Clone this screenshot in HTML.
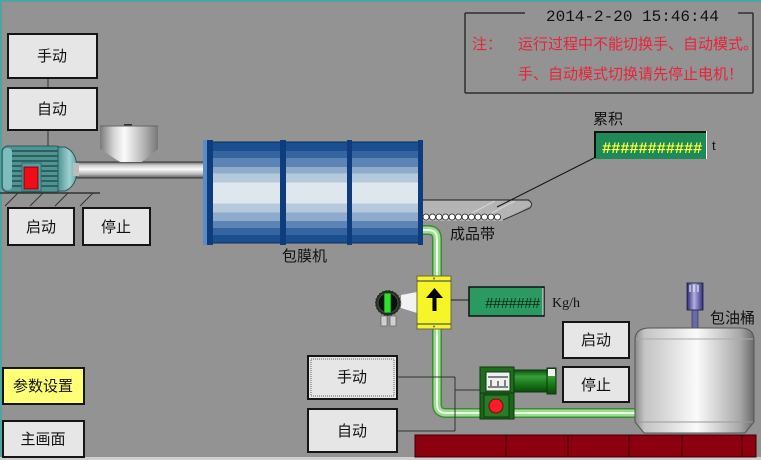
<!DOCTYPE html>
<html><head><meta charset="utf-8"><style>
html,body{margin:0;padding:0;background:#939393;}
svg{display:block;}
text{font-family:"Liberation Sans","Noto Sans CJK SC",sans-serif;}
.cn{font-size:15px;fill:#111;}
.btn{fill:#e6e6e6;stroke:#151515;stroke-width:2;}
</style></head><body>
<svg width="761" height="460" viewBox="0 0 761 460" xmlns="http://www.w3.org/2000/svg">
<defs>
<linearGradient id="drum" x1="0" y1="0" x2="0" y2="1">
<stop offset="0" stop-color="#1c4f8f"/><stop offset="0.09" stop-color="#1c4f8f"/>
<stop offset="0.09" stop-color="#3565a0"/><stop offset="0.16" stop-color="#3565a0"/>
<stop offset="0.16" stop-color="#5c84b5"/><stop offset="0.25" stop-color="#5c84b5"/>
<stop offset="0.25" stop-color="#8fabcb"/><stop offset="0.31" stop-color="#8fabcb"/>
<stop offset="0.31" stop-color="#b5c8dc"/><stop offset="0.40" stop-color="#b5c8dc"/>
<stop offset="0.40" stop-color="#dfe7ee"/><stop offset="0.61" stop-color="#dfe7ee"/>
<stop offset="0.61" stop-color="#b5c8dc"/><stop offset="0.70" stop-color="#b5c8dc"/>
<stop offset="0.70" stop-color="#8fabcb"/><stop offset="0.78" stop-color="#8fabcb"/>
<stop offset="0.78" stop-color="#5c84b5"/><stop offset="0.85" stop-color="#5c84b5"/>
<stop offset="0.85" stop-color="#3565a0"/><stop offset="0.92" stop-color="#3565a0"/>
<stop offset="0.92" stop-color="#1c4f8f"/><stop offset="1" stop-color="#1c4f8f"/>
</linearGradient>
<linearGradient id="shaft" x1="0" y1="0" x2="0" y2="1">
<stop offset="0" stop-color="#666"/><stop offset="0.2" stop-color="#ccc"/>
<stop offset="0.45" stop-color="#fafafa"/><stop offset="0.75" stop-color="#bbb"/><stop offset="1" stop-color="#555"/>
</linearGradient>
<linearGradient id="hop" x1="0" y1="0" x2="1" y2="0">
<stop offset="0" stop-color="#7a7a7a"/><stop offset="0.25" stop-color="#d8d8d8"/>
<stop offset="0.42" stop-color="#fbfbfb"/><stop offset="0.7" stop-color="#c0c0c0"/><stop offset="1" stop-color="#777"/>
</linearGradient>
<linearGradient id="tank" x1="0" y1="0" x2="1" y2="0">
<stop offset="0" stop-color="#8a8a8a"/><stop offset="0.08" stop-color="#c4c4c4"/>
<stop offset="0.25" stop-color="#d8d8d8"/><stop offset="0.45" stop-color="#f2f2f2"/>
<stop offset="0.52" stop-color="#fafafa"/><stop offset="0.7" stop-color="#d2d2d2"/>
<stop offset="0.88" stop-color="#a8a8a8"/><stop offset="1" stop-color="#6a6a6a"/>
</linearGradient>
<linearGradient id="gm" x1="0" y1="0" x2="0" y2="1">
<stop offset="0" stop-color="#0c4c0c"/><stop offset="0.3" stop-color="#3aa03a"/>
<stop offset="0.6" stop-color="#1c7c1c"/><stop offset="1" stop-color="#0a4a0a"/>
</linearGradient>
<linearGradient id="mix" x1="0" y1="0" x2="1" y2="0">
<stop offset="0" stop-color="#2a2a70"/><stop offset="0.45" stop-color="#b0b0e0"/><stop offset="1" stop-color="#30307a"/>
</linearGradient>
<linearGradient id="dome" x1="0" y1="0" x2="1" y2="0">
<stop offset="0" stop-color="#4f9393"/><stop offset="0.6" stop-color="#9fd0d0"/><stop offset="1" stop-color="#6aa8a8"/>
</linearGradient>
</defs>

<!-- frame -->
<rect x="0" y="0" width="761" height="2" fill="#4fa3a3"/>
<rect x="0" y="0" width="2" height="460" fill="#4fa3a3"/>
<rect x="0" y="457" width="761" height="3" fill="#cfcfcf"/>

<!-- info box -->
<g stroke="#2e2e2e" stroke-width="1.5" fill="none">
<line x1="465" y1="13" x2="525" y2="13"/><line x1="738" y1="13" x2="753" y2="13"/>
<line x1="465" y1="13" x2="465" y2="93"/><line x1="753" y1="13" x2="753" y2="93"/>
<line x1="465" y1="93" x2="753" y2="93"/>
</g>
<text x="546" y="21" style="font-family:'Liberation Mono',monospace;font-size:16px;fill:#111">2014-2-20 15:46:44</text>
<text x="472" y="49" style="font-size:15px;fill:#e8233c">注：</text>
<text x="518" y="49" style="font-size:15px;fill:#e8233c">运行过程中不能切换手、自动模式。</text>
<text x="518" y="79" style="font-size:15px;fill:#e8233c">手、自动模式切换请先停止电机！</text>

<!-- connectors top-left -->
<line x1="48" y1="78" x2="48" y2="87" stroke="#333"/>
<line x1="48" y1="130" x2="48" y2="147" stroke="#333"/>

<!-- buttons top-left -->
<rect class="btn" x="8" y="34" width="89" height="44"/>
<text class="cn" x="52" y="61" text-anchor="middle">手动</text>
<rect class="btn" x="8" y="88" width="89" height="42"/>
<text class="cn" x="52" y="114" text-anchor="middle">自动</text>

<!-- shaft -->
<rect x="76" y="162" width="130" height="16" fill="url(#shaft)" stroke="#333" stroke-width="1"/>

<!-- hopper -->
<rect x="100" y="126" width="58" height="23" fill="url(#hop)"/>
<polygon points="100,149 158,149 142,162 120,162" fill="url(#hop)"/>
<rect x="124" y="124" width="8" height="2" fill="#333"/>
<line x1="100" y1="126" x2="158" y2="126" stroke="#666"/>

<!-- motor -->
<rect x="2" y="146" width="60" height="46" rx="6" fill="#4f9393" stroke="#2a5a5a"/>
<g stroke="#244f4f" stroke-width="1.5">
<line x1="12" y1="151" x2="60" y2="151"/><line x1="12" y1="156" x2="60" y2="156"/>
<line x1="12" y1="161" x2="60" y2="161"/><line x1="12" y1="166" x2="60" y2="166"/>
<line x1="12" y1="171" x2="60" y2="171"/><line x1="12" y1="176" x2="60" y2="176"/>
<line x1="12" y1="181" x2="60" y2="181"/><line x1="12" y1="186" x2="60" y2="186"/>
</g>
<rect x="3" y="148" width="9" height="42" rx="4" fill="#7fbcbc"/>
<path d="M58,147 L65,147 Q77,152 77,169 Q77,186 65,191 L58,191 Z" fill="url(#dome)" stroke="#2a5a5a"/>
<rect x="73" y="163" width="6" height="13" fill="#bbb"/>
<rect x="22" y="163" width="19" height="28" fill="#5a9c9c" stroke="#2f6f6f"/>
<rect x="24" y="167" width="14" height="22" fill="#f00c1a" stroke="#600" stroke-width="0.8"/>
<!-- base -->
<line x1="0" y1="193" x2="100" y2="193" stroke="#333" stroke-width="1.5"/>
<g stroke="#333" stroke-width="1">
<line x1="18" y1="193" x2="5" y2="206"/><line x1="43" y1="193" x2="30" y2="206"/>
<line x1="68" y1="193" x2="55" y2="206"/><line x1="93" y1="193" x2="80" y2="206"/>
</g>

<!-- start/stop left -->
<rect class="btn" x="8" y="208" width="66" height="37"/>
<text class="cn" x="41" y="232" text-anchor="middle">启动</text>
<rect class="btn" x="83" y="208" width="67" height="37"/>
<text class="cn" x="116" y="232" text-anchor="middle">停止</text>

<!-- conveyor -->
<polygon points="422,200 528,200 532,205 503,221 422,221" fill="#b4b4b4"/>
<line x1="422" y1="200" x2="529" y2="200" stroke="#1a1a1a"/>
<path d="M528,200 Q534,203 530,208 L503,220" stroke="#333" fill="none"/>
<g stroke="#d6d6d6" stroke-width="1"><line x1="470" y1="214" x2="495" y2="201"/><line x1="490" y1="214" x2="515" y2="201"/></g>
<g fill="#fff" stroke="#222" stroke-width="0.8">
<circle cx="426" cy="217" r="3"/><circle cx="432.5" cy="217" r="3"/><circle cx="439" cy="217" r="3"/>
<circle cx="445.5" cy="217" r="3"/><circle cx="452" cy="217" r="3"/><circle cx="458.5" cy="217" r="3"/>
<circle cx="465" cy="217" r="3"/><circle cx="471.5" cy="217" r="3"/><circle cx="478" cy="217" r="3"/>
<circle cx="484.5" cy="217" r="3"/><circle cx="491" cy="217" r="3"/><circle cx="497.5" cy="217" r="3"/>
</g>
<text class="cn" x="450" y="239">成品带</text>
<line x1="497" y1="207" x2="594" y2="158" stroke="#111"/>

<!-- pipe -->
<path d="M420,230 L428,230 Q437,230 437,239 L437,404 Q437,413 446,413 L636,413" fill="none" stroke="#3f8a38" stroke-width="10"/>
<path d="M420,230 L428,230 Q437,230 437,239 L437,404 Q437,413 446,413 L636,413" fill="none" stroke="#9edc94" stroke-width="7"/>
<path d="M420,230 L428,230 Q437,230 437,239 L437,404 Q437,413 446,413 L636,413" fill="none" stroke="#eafbe6" stroke-width="2"/>

<!-- drum -->
<rect x="210" y="142" width="210" height="101" fill="url(#drum)"/>
<line x1="210" y1="142" x2="420" y2="142" stroke="#0d2d5d"/>
<line x1="210" y1="243" x2="420" y2="243" stroke="#0d2d5d"/>
<rect x="203" y="140" width="4" height="105" fill="#5a8cc8"/>
<rect x="207" y="140" width="6" height="105" fill="#0f3c7c"/>
<rect x="280" y="140" width="6" height="105" fill="#0f3c7c"/>
<rect x="347" y="140" width="5" height="105" fill="#0f3c7c"/>
<rect x="418" y="140" width="5" height="105" fill="#0f3c7c"/>
<text class="cn" x="282" y="261">包膜机</text>

<!-- counter -->
<text class="cn" x="593" y="124">累积</text>
<rect x="594" y="131" width="113" height="28" fill="#1e8a58"/>
<path d="M595,158 L595,132 L706,132" stroke="#111" stroke-width="2" fill="none"/>
<line x1="706.5" y1="131" x2="706.5" y2="159" stroke="#fff"/>
<text x="602" y="153" style="font-family:'Liberation Mono',monospace;font-weight:bold;font-size:15.5px;fill:#ffff3a;letter-spacing:-0.2px">###########</text>
<text x="712" y="150" style="font-family:'Liberation Sans',sans-serif;font-size:13px;fill:#111">t</text>

<!-- flowmeter -->
<polygon points="401,295 417,292 417,313 401,308" fill="#f2f2f2"/>
<circle cx="388" cy="303" r="13" fill="#2a2a2a" stroke="#999" stroke-dasharray="2,1.5"/>
<circle cx="388" cy="303" r="10" fill="#101010" stroke="#3a5a3a"/>
<rect x="384" y="293" width="7" height="20" fill="#30e030" stroke="#0a3a0a" stroke-width="0.8"/>
<rect x="381" y="316" width="6" height="10" fill="#cfcfcf" stroke="#555" stroke-width="0.6"/>
<rect x="390" y="316" width="6" height="10" fill="#cfcfcf" stroke="#555" stroke-width="0.6"/>
<rect x="417" y="276" width="34" height="53" fill="#f5f528" stroke="#6a6a3a"/>
<line x1="417" y1="281" x2="451" y2="281" stroke="#303060"/>
<line x1="417" y1="324" x2="451" y2="324" stroke="#303060"/>
<circle cx="434" cy="278.5" r="1" fill="#666"/><circle cx="434" cy="326.5" r="1" fill="#666"/>
<rect x="432.5" y="296" width="4" height="15" fill="#000"/>
<polygon points="426,298 443,298 434.5,288" fill="#000"/>
<line x1="451" y1="300" x2="469" y2="300" stroke="#222"/>
<rect x="469" y="287" width="75" height="29" fill="#2a9a62" stroke="#111" stroke-width="1.5"/>
<line x1="543" y1="288" x2="543" y2="315" stroke="#eee"/>
<text x="485" y="308" style="font-family:'Liberation Mono',monospace;font-size:14.5px;fill:#0a2a14;letter-spacing:-0.9px">#######</text>
<text x="552" y="307" style="font-family:'Liberation Serif',serif;font-size:14px;fill:#111">Kg/h</text>

<!-- lower connectors -->
<g stroke="#333" fill="none">
<line x1="397" y1="377" x2="455" y2="377"/>
<line x1="397" y1="431" x2="455" y2="431"/>
<line x1="455" y1="377" x2="455" y2="431"/>
<line x1="455" y1="390" x2="480" y2="390"/>
</g>

<!-- gear motor -->
<rect x="480" y="367" width="34" height="26" fill="#1e6e1e" stroke="#0a3a0a"/>
<rect x="486" y="372" width="24" height="19" fill="#f0f0f0" stroke="#0a3a0a"/>
<g stroke="#111" stroke-width="1"><line x1="488" y1="377" x2="508" y2="377"/><line x1="488" y1="387" x2="508" y2="387"/>
<line x1="491" y1="380" x2="491" y2="386"/><line x1="498" y1="381" x2="498" y2="386"/><line x1="505" y1="380" x2="505" y2="386"/></g>
<rect x="480" y="393" width="34" height="26" fill="#1a661a" stroke="#0a3a0a"/>
<rect x="484" y="395" width="25" height="22" fill="#2a7a2a" stroke="#0a3a0a"/>
<circle cx="496" cy="406" r="7" fill="#ff1a2a" stroke="#600" stroke-width="0.8"/>
<rect x="514" y="370" width="34" height="22" fill="url(#gm)" stroke="#0a3a0a"/>
<rect x="547" y="368" width="9" height="26" fill="url(#gm)" stroke="#0a3a0a"/>
<rect x="548" y="369" width="7" height="7" fill="#f4f4f4"/>

<!-- lower middle buttons -->
<rect class="btn" x="308" y="356" width="89" height="43"/>
<rect x="311" y="359" width="83" height="37" fill="none" stroke="#666" stroke-width="1" stroke-dasharray="1,1"/>
<text class="cn" x="352" y="382" text-anchor="middle">手动</text>
<rect class="btn" x="308" y="409" width="89" height="43"/>
<text class="cn" x="352" y="436" text-anchor="middle">自动</text>

<!-- right buttons -->
<rect class="btn" x="563" y="322" width="66" height="36"/>
<text class="cn" x="596" y="345" text-anchor="middle">启动</text>
<rect class="btn" x="563" y="367" width="66" height="35"/>
<text class="cn" x="596" y="390" text-anchor="middle">停止</text>

<!-- tank -->
<rect x="692" y="309" width="6" height="20" fill="#6a6aa6" stroke="#2a2a5a" stroke-width="0.6"/>
<rect x="687" y="283" width="16" height="27" fill="url(#mix)" stroke="#1a1a4a" stroke-width="0.8"/>
<g stroke="#fff" stroke-width="1"><line x1="690" y1="285" x2="690" y2="292"/><line x1="694" y1="285" x2="694" y2="292"/><line x1="698" y1="285" x2="698" y2="292"/></g>
<path d="M635,340 Q635,328 650,328 L740,328 Q754,328 754,340 L754,422 L745,433 L644,433 L635,422 Z" fill="url(#tank)" stroke="#555"/>
<line x1="636" y1="339" x2="753" y2="339" stroke="#aaa"/>
<line x1="636" y1="422" x2="753" y2="422" stroke="#999"/>
<text class="cn" x="710" y="323">包油桶</text>

<!-- red bar -->
<rect x="415" y="435" width="341" height="22" fill="#8c0010" stroke="#3a0006"/>
<g stroke="#3a0006"><line x1="506" y1="435" x2="506" y2="457"/><line x1="568" y1="435" x2="568" y2="457"/>
<line x1="629" y1="435" x2="629" y2="457"/><line x1="682" y1="435" x2="682" y2="457"/><line x1="742" y1="435" x2="742" y2="457"/></g>

<!-- bottom-left buttons -->
<rect x="3" y="368" width="81" height="36" fill="#ffff78" stroke="#151515" stroke-width="2"/>
<text class="cn" x="43" y="391" text-anchor="middle">参数设置</text>
<rect class="btn" x="3" y="421" width="81" height="36"/>
<text class="cn" x="43" y="444" text-anchor="middle">主画面</text>
</svg>
</body></html>
